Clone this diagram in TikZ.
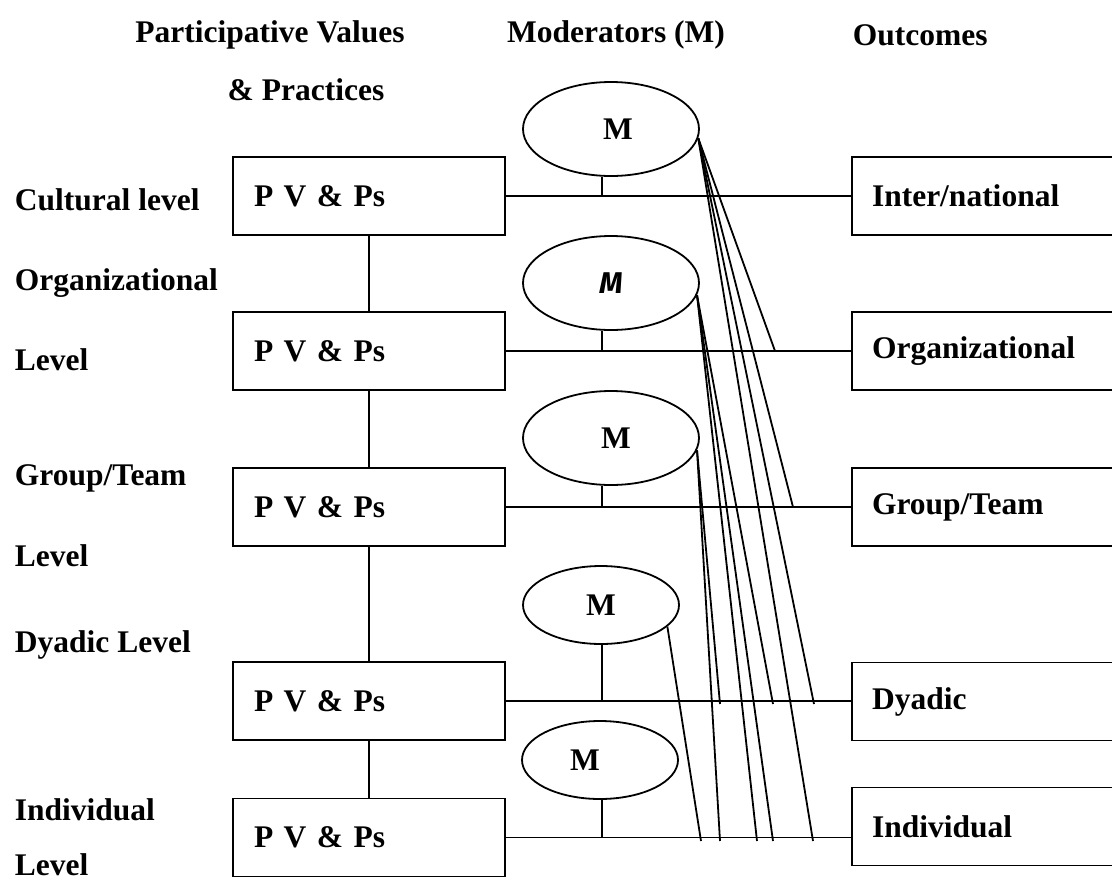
\documentclass[tikz,border=0pt]{standalone}
\usepackage{fontspec}
\setmainfont{Liberation Serif}
\newfontfamily\handfont{Fira Sans}
\usetikzlibrary{shapes.geometric}

\begin{document}
\begin{tikzpicture}[x=1pt, y=-1pt, line width=1.8pt,
  every node/.style={font=\bfseries\fontsize{31.5}{36}\selectfont, inner sep=0pt},
  lvlbox/.style={draw, rectangle, minimum width=272pt, minimum height=78pt,
                 text width=230pt, align=left},
  outbox/.style={draw, rectangle, minimum width=290pt, minimum height=78pt,
                 text width=250pt, align=left},
  modbig/.style={draw, ellipse, minimum width=176pt, minimum height=94pt},
  modsmall/.style={draw, ellipse, minimum width=156pt, minimum height=78pt},
  lbl/.style={anchor=west},
  link/.style={line width=1.8pt},
]
\useasboundingbox (0,0) rectangle (1112,881);
\fill[white] (0,0) rectangle (1112,881);
\clip (0,0) rectangle (1112,881);

% column headings
\node (hPV) at (270,35) {Participative Values};
\node (hPr) at (306,90) {\& Practices};
\node (hM)  at (616,35) {Moderators (M)};
\node[lbl] (hO) at (852,35) {Outcomes};

% level labels
\node[lbl] (tCul)  at (14,200) {Cultural level};
\node[lbl] (tOrg)  at (14,283) {Organizational};
\node[lbl] (tOrgL) at (14,360) {Level};
\node[lbl] (tGrp)  at (14,478) {Group/Team};
\node[lbl] (tGrpL) at (14,556) {Level};
\node[lbl] (tDya)  at (14,645) {Dyadic Level};
\node[lbl] (tInd)  at (14,810) {Individual};
\node[lbl] (tIndL) at (14,865) {Level};

% participative values & practices boxes
\node[lvlbox] (L1) at (369,196)   {P V \& Ps};
\node[lvlbox] (L2) at (369,351)   {P V \& Ps};
\node[lvlbox] (L3) at (369,507)   {P V \& Ps};
\node[lvlbox] (L4) at (369,701)   {P V \& Ps};
\node[lvlbox] (L5) at (369,837.5) {P V \& Ps};

% outcome boxes (running off the right edge)
\node[outbox] (R1) at (997,196)   {Inter/national};
\node[outbox] (R2) at (997,351)   {Organizational};
\node[outbox] (R3) at (997,507)   {Group/Team};
\node[outbox] (R4) at (997,701.5) {Dyadic};
\node[outbox] (R5) at (997,826.5) {Individual};

% moderators
\node[modbig]   (E1) at (611,129) {\hspace*{14pt}M};
\node[modbig]   (E2) at (611,283) {\handfont\bfseries\itshape\fontsize{30}{34}\selectfont M};
\node[modbig]   (E3) at (611,438) {\hspace*{10pt}M};
\node[modsmall] (E4) at (601,605) {M};
\node[modsmall] (E5) at (600,760) {M\hspace*{30pt}};

% vertical chain of levels
\draw[link] (L1.south) -- (L2.north);
\draw[link] (L2.south) -- (L3.north);
\draw[link] (L3.south) -- (L4.north);
\draw[link] (L4.south) -- (L5.north);

% horizontal links from levels to outcomes
\foreach \i in {1,...,5}
  \draw[link] (L\i.east) -- (L\i.east -| R\i.west);

% stems from moderators down to the links
\coordinate (stem) at (602,0);
\draw[link] (E1.south -| stem) -- (stem |- L1.east);
\draw[link] (E2.south -| stem) -- (stem |- L2.east);
\draw[link] (E3.south -| stem) -- (stem |- L3.east);
\draw[link] (E4.south -| stem) -- (stem |- L4.east);
\draw[link] (E5.south -| stem) -- (stem |- L5.east);

% end points of the cross-level moderator lines
\coordinate (o1)  at (775,351);
\coordinate (g1)  at (793,507);
\coordinate (d1)  at (814,704);
\coordinate (i1)  at (813,841);
\coordinate (d2)  at (773,704);
\coordinate (i2a) at (757,841);
\coordinate (i2b) at (773,841);
\coordinate (d3)  at (720,704);
\coordinate (i3)  at (720,841);
\coordinate (i4)  at (701,841);

% cross-level moderator lines
\draw[link] (E1.-6) -- (o1);
\draw[link] (E1.-6) -- (g1);
\draw[link] (E1.-6) -- (d1);
\draw[link] (E1.-6) -- (i1);
\draw[link] (E2.-8) -- (d2);
\draw[link] (E2.-8) -- (i2a);
\draw[link] (E2.-8) -- (i2b);
\draw[link] (E3.-8) -- (d3);
\draw[link] (E3.-8) -- (i3);
\draw[link] (E4.-18) -- (i4);
\end{tikzpicture}
\end{document}
